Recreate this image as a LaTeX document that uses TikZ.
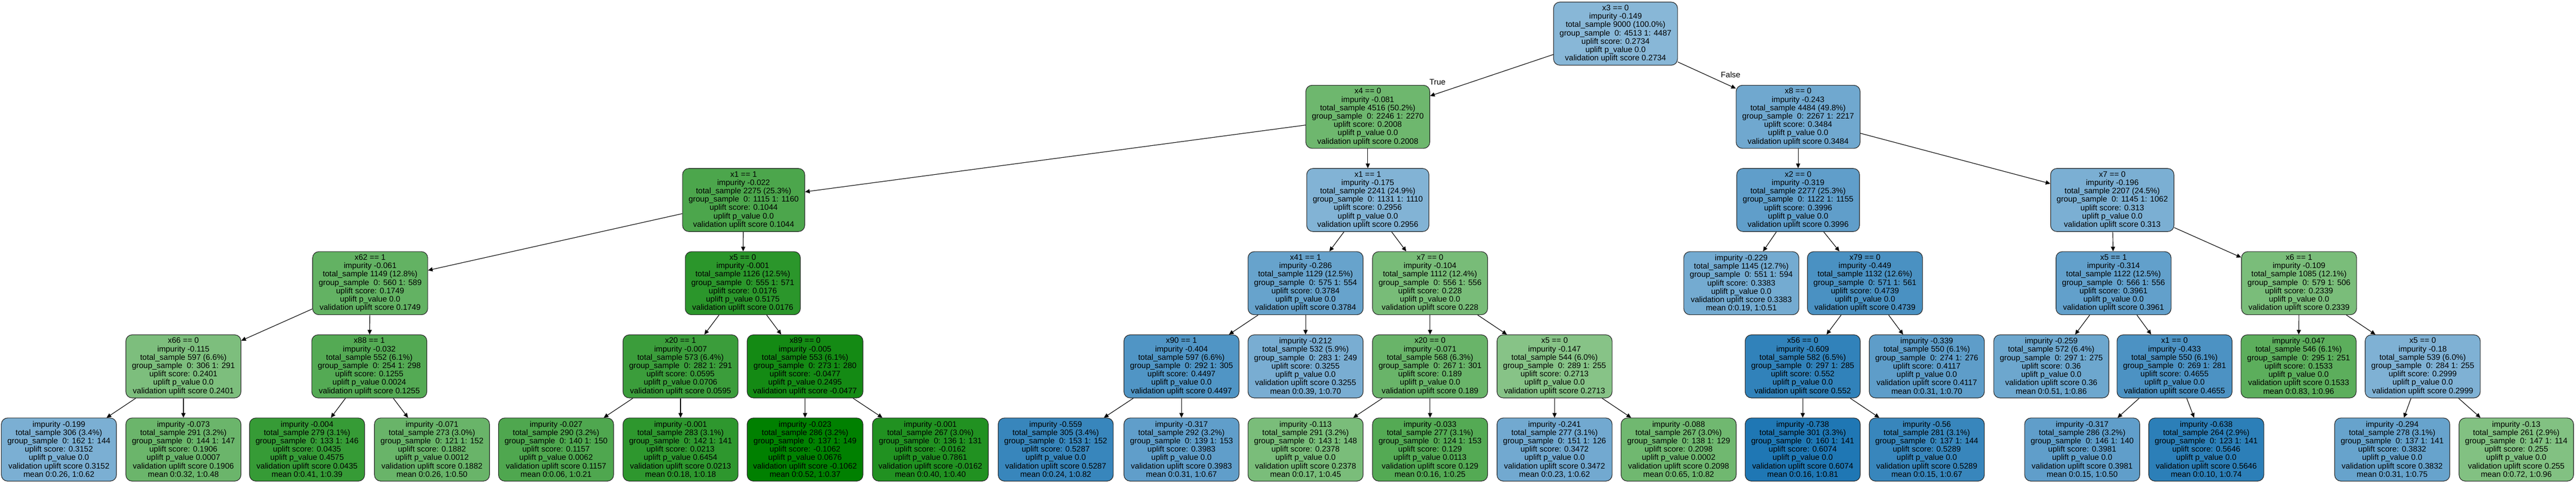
\documentclass[tikz,border=0pt]{standalone}
\usepackage{fontspec}
\setmainfont{Liberation Sans}
\usetikzlibrary{arrows.meta}
\definecolor{gbase}{RGB}{0,128,0}
\definecolor{bbase}{RGB}{31,119,180}

\begin{document}
\begin{tikzpicture}[
  font=\fontsize{5.43}{5.69}\selectfont, >={Triangle[length=1.1mm,width=1.0mm]}, line width=0.4pt,
  box/.style={rectangle, rounded corners=1.5mm, draw=black!85, align=center, inner xsep=1.45mm, inner ysep=0pt, minimum height=15.1mm},
  bl/.style={box, fill=bbase!#1},
  gr/.style={box, fill=gbase!#1},
  lab/.style={inner sep=0pt}
]
\useasboundingbox (0,0) rectangle (61.66,-11.55);

\node[bl=53] (t) at (38.67,-0.805) {x3 == 0\\impurity -0.149\\total\_sample 9000 (100.0\%)\\group\_sample\ \ 0: 4513 1: 4487\\uplift score: 0.2734\\uplift p\_value 0.0\\validation uplift score 0.2734};
  \node[gr=57] (t-1) at (32.74,-2.795) {x4 == 0\\impurity -0.081\\total\_sample 4516 (50.2\%)\\group\_sample\ \ 0: 2246 1: 2270\\uplift score: 0.2008\\uplift p\_value 0.0\\validation uplift score 0.2008};
    \node[gr=70] (t-1-1) at (17.80,-4.785) {x1 == 1\\impurity -0.022\\total\_sample 2275 (25.3\%)\\group\_sample\ \ 0: 1115 1: 1160\\uplift score: 0.1044\\uplift p\_value 0.0\\validation uplift score 0.1044};
      \node[gr=61] (t-1-1-1) at (8.86,-6.775) {x62 == 1\\impurity -0.061\\total\_sample 1149 (12.8\%)\\group\_sample\ \ 0: 560 1: 589\\uplift score: 0.1749\\uplift p\_value 0.0\\validation uplift score 0.1749};
        \node[gr=51] (t-1-1-1-1) at (4.39,-8.765) {x66 == 0\\impurity -0.115\\total\_sample 597 (6.6\%)\\group\_sample\ \ 0: 306 1: 291\\uplift score: 0.2401\\uplift p\_value 0.0\\validation uplift score 0.2401};
          \node[bl=59] (t-1-1-1-1-1) at (1.41,-10.755) {impurity -0.199\\total\_sample 306 (3.4\%)\\group\_sample\ \ 0: 162 1: 144\\uplift score: 0.3152\\uplift p\_value 0.0\\validation uplift score 0.3152\\mean 0:0.26, 1:0.62};
          \node[gr=58] (t-1-1-1-1-2) at (4.39,-10.755) {impurity -0.073\\total\_sample 291 (3.2\%)\\group\_sample\ \ 0: 144 1: 147\\uplift score: 0.1906\\uplift p\_value 0.0007\\validation uplift score 0.1906\\mean 0:0.32, 1:0.48};
        \node[gr=67] (t-1-1-1-2) at (8.84,-8.765) {x88 == 1\\impurity -0.032\\total\_sample 552 (6.1\%)\\group\_sample\ \ 0: 254 1: 298\\uplift score: 0.1255\\uplift p\_value 0.0024\\validation uplift score 0.1255};
          \node[gr=79] (t-1-1-1-2-1) at (7.35,-10.755) {impurity -0.004\\total\_sample 279 (3.1\%)\\group\_sample\ \ 0: 133 1: 146\\uplift score: 0.0435\\uplift p\_value 0.4575\\validation uplift score 0.0435\\mean 0:0.41, 1:0.39};
          \node[gr=59] (t-1-1-1-2-2) at (10.34,-10.755) {impurity -0.071\\total\_sample 273 (3.0\%)\\group\_sample\ \ 0: 121 1: 152\\uplift score: 0.1882\\uplift p\_value 0.0012\\validation uplift score 0.1882\\mean 0:0.26, 1:0.50};
      \node[gr=83] (t-1-1-2) at (17.78,-6.775) {x5 == 0\\impurity -0.001\\total\_sample 1126 (12.5\%)\\group\_sample\ \ 0: 555 1: 571\\uplift score: 0.0176\\uplift p\_value 0.5175\\validation uplift score 0.0176};
        \node[gr=77] (t-1-1-2-1) at (16.29,-8.765) {x20 == 1\\impurity -0.007\\total\_sample 573 (6.4\%)\\group\_sample\ \ 0: 282 1: 291\\uplift score: 0.0595\\uplift p\_value 0.0706\\validation uplift score 0.0595};
          \node[gr=69] (t-1-1-2-1-1) at (13.31,-10.755) {impurity -0.027\\total\_sample 290 (3.2\%)\\group\_sample\ \ 0: 140 1: 150\\uplift score: 0.1157\\uplift p\_value 0.0062\\validation uplift score 0.1157\\mean 0:0.06, 1:0.21};
          \node[gr=82] (t-1-1-2-1-2) at (16.29,-10.755) {impurity -0.001\\total\_sample 283 (3.1\%)\\group\_sample\ \ 0: 142 1: 141\\uplift score: 0.0213\\uplift p\_value 0.6454\\validation uplift score 0.0213\\mean 0:0.18, 1:0.18};
        \node[gr=92] (t-1-1-2-2) at (19.27,-8.765) {x89 == 0\\impurity -0.005\\total\_sample 553 (6.1\%)\\group\_sample\ \ 0: 273 1: 280\\uplift score: -0.0477\\uplift p\_value 0.2495\\validation uplift score -0.0477};
          \node[gr=100] (t-1-1-2-2-1) at (19.27,-10.755) {impurity -0.023\\total\_sample 286 (3.2\%)\\group\_sample\ \ 0: 137 1: 149\\uplift score: -0.1062\\uplift p\_value 0.0676\\validation uplift score -0.1062\\mean 0:0.52, 1:0.37};
          \node[gr=87] (t-1-1-2-2-2) at (22.27,-10.755) {impurity -0.001\\total\_sample 267 (3.0\%)\\group\_sample\ \ 0: 136 1: 131\\uplift score: -0.0162\\uplift p\_value 0.7861\\validation uplift score -0.0162\\mean 0:0.40, 1:0.40};
    \node[bl=56] (t-1-2) at (32.74,-4.785) {x1 == 1\\impurity -0.175\\total\_sample 2241 (24.9\%)\\group\_sample\ \ 0: 1131 1: 1110\\uplift score: 0.2956\\uplift p\_value 0.0\\validation uplift score 0.2956};
      \node[bl=68] (t-1-2-1) at (31.25,-6.775) {x41 == 1\\impurity -0.286\\total\_sample 1129 (12.5\%)\\group\_sample\ \ 0: 575 1: 554\\uplift score: 0.3784\\uplift p\_value 0.0\\validation uplift score 0.3784};
        \node[bl=78] (t-1-2-1-1) at (28.28,-8.765) {x90 == 1\\impurity -0.404\\total\_sample 597 (6.6\%)\\group\_sample\ \ 0: 292 1: 305\\uplift score: 0.4497\\uplift p\_value 0.0\\validation uplift score 0.4497};
          \node[bl=89] (t-1-2-1-1-1) at (25.27,-10.755) {impurity -0.559\\total\_sample 305 (3.4\%)\\group\_sample\ \ 0: 153 1: 152\\uplift score: 0.5287\\uplift p\_value 0.0\\validation uplift score 0.5287\\mean 0:0.24, 1:0.82};
          \node[bl=71] (t-1-2-1-1-2) at (28.28,-10.755) {impurity -0.317\\total\_sample 292 (3.2\%)\\group\_sample\ \ 0: 139 1: 153\\uplift score: 0.3983\\uplift p\_value 0.0\\validation uplift score 0.3983\\mean 0:0.31, 1:0.67};
        \node[bl=60] (t-1-2-1-2) at (31.25,-8.765) {impurity -0.212\\total\_sample 532 (5.9\%)\\group\_sample\ \ 0: 283 1: 249\\uplift score: 0.3255\\uplift p\_value 0.0\\validation uplift score 0.3255\\mean 0:0.39, 1:0.70};
      \node[gr=53] (t-1-2-2) at (34.23,-6.775) {x7 == 0\\impurity -0.104\\total\_sample 1112 (12.4\%)\\group\_sample\ \ 0: 556 1: 556\\uplift score: 0.228\\uplift p\_value 0.0\\validation uplift score 0.228};
        \node[gr=59] (t-1-2-2-1) at (34.23,-8.765) {x20 == 0\\impurity -0.071\\total\_sample 568 (6.3\%)\\group\_sample\ \ 0: 267 1: 301\\uplift score: 0.189\\uplift p\_value 0.0\\validation uplift score 0.189};
          \node[gr=52] (t-1-2-2-1-1) at (31.25,-10.755) {impurity -0.113\\total\_sample 291 (3.2\%)\\group\_sample\ \ 0: 143 1: 148\\uplift score: 0.2378\\uplift p\_value 0.0\\validation uplift score 0.2378\\mean 0:0.17, 1:0.45};
          \node[gr=67] (t-1-2-2-1-2) at (34.23,-10.755) {impurity -0.033\\total\_sample 277 (3.1\%)\\group\_sample\ \ 0: 124 1: 153\\uplift score: 0.129\\uplift p\_value 0.0113\\validation uplift score 0.129\\mean 0:0.16, 1:0.25};
        \node[gr=47] (t-1-2-2-2) at (37.21,-8.765) {x5 == 0\\impurity -0.147\\total\_sample 544 (6.0\%)\\group\_sample\ \ 0: 289 1: 255\\uplift score: 0.2713\\uplift p\_value 0.0\\validation uplift score 0.2713};
          \node[bl=63] (t-1-2-2-2-1) at (37.21,-10.755) {impurity -0.241\\total\_sample 277 (3.1\%)\\group\_sample\ \ 0: 151 1: 126\\uplift score: 0.3472\\uplift p\_value 0.0\\validation uplift score 0.3472\\mean 0:0.23, 1:0.62};
          \node[gr=56] (t-1-2-2-2-2) at (40.18,-10.755) {impurity -0.088\\total\_sample 267 (3.0\%)\\group\_sample\ \ 0: 138 1: 129\\uplift score: 0.2098\\uplift p\_value 0.0002\\validation uplift score 0.2098\\mean 0:0.65, 1:0.82};
  \node[bl=64] (t-2) at (43.04,-2.795) {x8 == 0\\impurity -0.243\\total\_sample 4484 (49.8\%)\\group\_sample\ \ 0: 2267 1: 2217\\uplift score: 0.3484\\uplift p\_value 0.0\\validation uplift score 0.3484};
    \node[bl=71] (t-2-1) at (43.04,-4.785) {x2 == 0\\impurity -0.319\\total\_sample 2277 (25.3\%)\\group\_sample\ \ 0: 1122 1: 1155\\uplift score: 0.3996\\uplift p\_value 0.0\\validation uplift score 0.3996};
      \node[bl=62] (t-2-1-1) at (41.68,-6.775) {impurity -0.229\\total\_sample 1145 (12.7\%)\\group\_sample\ \ 0: 551 1: 594\\uplift score: 0.3383\\uplift p\_value 0.0\\validation uplift score 0.3383\\mean 0:0.19, 1:0.51};
      \node[bl=81] (t-2-1-2) at (44.64,-6.775) {x79 == 0\\impurity -0.449\\total\_sample 1132 (12.6\%)\\group\_sample\ \ 0: 571 1: 561\\uplift score: 0.4739\\uplift p\_value 0.0\\validation uplift score 0.4739};
        \node[bl=92] (t-2-1-2-1) at (43.15,-8.765) {x56 == 0\\impurity -0.609\\total\_sample 582 (6.5\%)\\group\_sample\ \ 0: 297 1: 285\\uplift score: 0.552\\uplift p\_value 0.0\\validation uplift score 0.552};
          \node[bl=100] (t-2-1-2-1-1) at (43.15,-10.755) {impurity -0.738\\total\_sample 301 (3.3\%)\\group\_sample\ \ 0: 160 1: 141\\uplift score: 0.6074\\uplift p\_value 0.0\\validation uplift score 0.6074\\mean 0:0.16, 1:0.81};
          \node[bl=89] (t-2-1-2-1-2) at (46.12,-10.755) {impurity -0.56\\total\_sample 281 (3.1\%)\\group\_sample\ \ 0: 137 1: 144\\uplift score: 0.5289\\uplift p\_value 0.0\\validation uplift score 0.5289\\mean 0:0.15, 1:0.67};
        \node[bl=72] (t-2-1-2-2) at (46.12,-8.765) {impurity -0.339\\total\_sample 550 (6.1\%)\\group\_sample\ \ 0: 274 1: 276\\uplift score: 0.4117\\uplift p\_value 0.0\\validation uplift score 0.4117\\mean 0:0.31, 1:0.70};
    \node[bl=59] (t-2-2) at (50.56,-4.785) {x7 == 0\\impurity -0.196\\total\_sample 2207 (24.5\%)\\group\_sample\ \ 0: 1145 1: 1062\\uplift score: 0.313\\uplift p\_value 0.0\\validation uplift score 0.313};
      \node[bl=70] (t-2-2-1) at (50.59,-6.775) {x5 == 1\\impurity -0.314\\total\_sample 1122 (12.5\%)\\group\_sample\ \ 0: 566 1: 556\\uplift score: 0.3961\\uplift p\_value 0.0\\validation uplift score 0.3961};
        \node[bl=65] (t-2-2-1-1) at (49.10,-8.765) {impurity -0.259\\total\_sample 572 (6.4\%)\\group\_sample\ \ 0: 297 1: 275\\uplift score: 0.36\\uplift p\_value 0.0\\validation uplift score 0.36\\mean 0:0.51, 1:0.86};
        \node[bl=80] (t-2-2-1-2) at (52.05,-8.765) {x1 == 0\\impurity -0.433\\total\_sample 550 (6.1\%)\\group\_sample\ \ 0: 269 1: 281\\uplift score: 0.4655\\uplift p\_value 0.0\\validation uplift score 0.4655};
          \node[bl=71] (t-2-2-1-2-1) at (49.84,-10.755) {impurity -0.317\\total\_sample 286 (3.2\%)\\group\_sample\ \ 0: 146 1: 140\\uplift score: 0.3981\\uplift p\_value 0.0\\validation uplift score 0.3981\\mean 0:0.15, 1:0.50};
          \node[bl=94] (t-2-2-1-2-2) at (52.81,-10.755) {impurity -0.638\\total\_sample 264 (2.9\%)\\group\_sample\ \ 0: 123 1: 141\\uplift score: 0.5646\\uplift p\_value 0.0\\validation uplift score 0.5646\\mean 0:0.10, 1:0.74};
      \node[gr=52] (t-2-2-2) at (55.03,-6.775) {x6 == 1\\impurity -0.109\\total\_sample 1085 (12.1\%)\\group\_sample\ \ 0: 579 1: 506\\uplift score: 0.2339\\uplift p\_value 0.0\\validation uplift score 0.2339};
        \node[gr=64] (t-2-2-2-1) at (55.02,-8.765) {impurity -0.047\\total\_sample 546 (6.1\%)\\group\_sample\ \ 0: 295 1: 251\\uplift score: 0.1533\\uplift p\_value 0.0\\validation uplift score 0.1533\\mean 0:0.83, 1:0.96};
        \node[bl=57] (t-2-2-2-2) at (57.99,-8.765) {x5 == 0\\impurity -0.18\\total\_sample 539 (6.0\%)\\group\_sample\ \ 0: 284 1: 255\\uplift score: 0.2999\\uplift p\_value 0.0\\validation uplift score 0.2999};
          \node[bl=68] (t-2-2-2-2-1) at (57.26,-10.755) {impurity -0.294\\total\_sample 278 (3.1\%)\\group\_sample\ \ 0: 137 1: 141\\uplift score: 0.3832\\uplift p\_value 0.0\\validation uplift score 0.3832\\mean 0:0.31, 1:0.75};
          \node[gr=49] (t-2-2-2-2-2) at (60.23,-10.755) {impurity -0.13\\total\_sample 261 (2.9\%)\\group\_sample\ \ 0: 147 1: 114\\uplift score: 0.255\\uplift p\_value 0.0\\validation uplift score 0.255\\mean 0:0.72, 1:0.96};

\draw[->] (t) -- node[lab, pos=0.94, above=2mm] (ltrue) {True} (t-1);
  \draw[->] (t-1) -- (t-1-1);
    \draw[->] (t-1-1) -- (t-1-1-1);
      \draw[->] (t-1-1-1) -- (t-1-1-1-1);
        \draw[->] (t-1-1-1-1) -- (t-1-1-1-1-1);
        \draw[->] (t-1-1-1-1) -- (t-1-1-1-1-2);
      \draw[->] (t-1-1-1) -- (t-1-1-1-2);
        \draw[->] (t-1-1-1-2) -- (t-1-1-1-2-1);
        \draw[->] (t-1-1-1-2) -- (t-1-1-1-2-2);
    \draw[->] (t-1-1) -- (t-1-1-2);
      \draw[->] (t-1-1-2) -- (t-1-1-2-1);
        \draw[->] (t-1-1-2-1) -- (t-1-1-2-1-1);
        \draw[->] (t-1-1-2-1) -- (t-1-1-2-1-2);
      \draw[->] (t-1-1-2) -- (t-1-1-2-2);
        \draw[->] (t-1-1-2-2) -- (t-1-1-2-2-1);
        \draw[->] (t-1-1-2-2) -- (t-1-1-2-2-2);
  \draw[->] (t-1) -- (t-1-2);
    \draw[->] (t-1-2) -- (t-1-2-1);
      \draw[->] (t-1-2-1) -- (t-1-2-1-1);
        \draw[->] (t-1-2-1-1) -- (t-1-2-1-1-1);
        \draw[->] (t-1-2-1-1) -- (t-1-2-1-1-2);
      \draw[->] (t-1-2-1) -- (t-1-2-1-2);
    \draw[->] (t-1-2) -- (t-1-2-2);
      \draw[->] (t-1-2-2) -- (t-1-2-2-1);
        \draw[->] (t-1-2-2-1) -- (t-1-2-2-1-1);
        \draw[->] (t-1-2-2-1) -- (t-1-2-2-1-2);
      \draw[->] (t-1-2-2) -- (t-1-2-2-2);
        \draw[->] (t-1-2-2-2) -- (t-1-2-2-2-1);
        \draw[->] (t-1-2-2-2) -- (t-1-2-2-2-2);
\draw[->] (t) -- node[lab, pos=0.91, above=2mm] (lfalse) {False} (t-2);
  \draw[->] (t-2) -- (t-2-1);
    \draw[->] (t-2-1) -- (t-2-1-1);
    \draw[->] (t-2-1) -- (t-2-1-2);
      \draw[->] (t-2-1-2) -- (t-2-1-2-1);
        \draw[->] (t-2-1-2-1) -- (t-2-1-2-1-1);
        \draw[->] (t-2-1-2-1) -- (t-2-1-2-1-2);
      \draw[->] (t-2-1-2) -- (t-2-1-2-2);
  \draw[->] (t-2) -- (t-2-2);
    \draw[->] (t-2-2) -- (t-2-2-1);
      \draw[->] (t-2-2-1) -- (t-2-2-1-1);
      \draw[->] (t-2-2-1) -- (t-2-2-1-2);
        \draw[->] (t-2-2-1-2) -- (t-2-2-1-2-1);
        \draw[->] (t-2-2-1-2) -- (t-2-2-1-2-2);
    \draw[->] (t-2-2) -- (t-2-2-2);
      \draw[->] (t-2-2-2) -- (t-2-2-2-1);
      \draw[->] (t-2-2-2) -- (t-2-2-2-2);
        \draw[->] (t-2-2-2-2) -- (t-2-2-2-2-1);
        \draw[->] (t-2-2-2-2) -- (t-2-2-2-2-2);
\end{tikzpicture}
\end{document}
